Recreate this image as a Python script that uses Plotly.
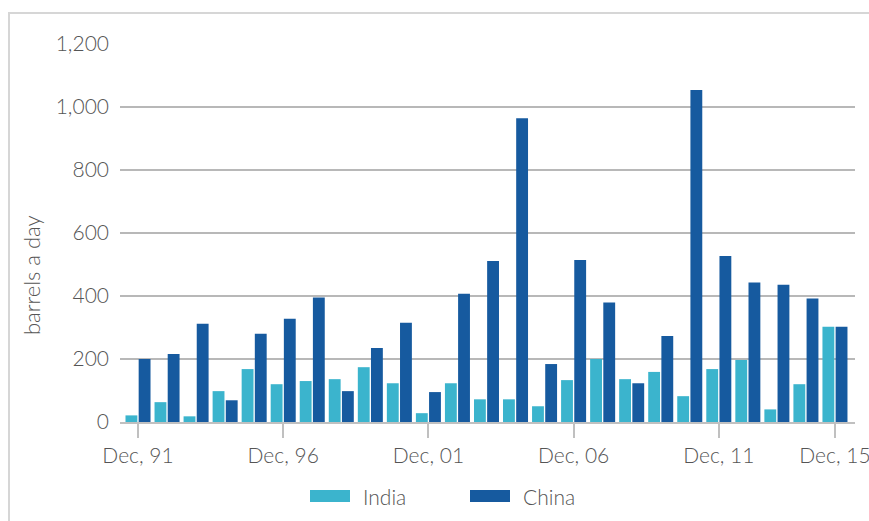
import plotly.graph_objects as go

years = list(range(1991, 2016))
india = [21, 63, 18, 98, 168, 120, 130, 136, 174, 123, 28, 123, 72, 72, 50,
         133, 200, 136, 159, 82, 168, 197, 40, 120, 302]
china = [200, 216, 312, 69, 280, 328, 395, 98, 235, 315, 95, 407, 511, 964, 184,
         514, 379, 123, 273, 1054, 527, 443, 436, 392, 302]
tick_years = [1991, 1996, 2001, 2006, 2011, 2015]
tick_text = ["Dec, 91", "Dec, 96", "Dec, 01", "Dec, 06", "Dec, 11", "Dec, 15"]
y_ticks = [0, 200, 400, 600, 800, 1000, 1200]

C_INDIA = "#3bb4cd"
C_CHINA = "#165a9f"
TXT = "#555555"
FONT = "Lato"
FS = 21

W, H = 869, 521
ML, MR, MT, MB = 120, 14, 44, 99
PW, PH = W - ML - MR, H - MT - MB

fig = go.Figure()
fig.add_trace(go.Bar(x=years, y=india, name="India", marker_color=C_INDIA,
                     marker_line_width=0))
fig.add_trace(go.Bar(x=years, y=china, name="China", marker_color=C_CHINA,
                     marker_line_width=0))

def px_x(p):
    return (p - ML) / PW

def px_y(p):
    return (H - MB - p) / PH

shapes = [
    # outer frame (left and top edges visible)
    dict(type="line", xref="paper", yref="paper", x0=px_x(9), x1=px_x(9),
         y0=px_y(12), y1=px_y(H), line=dict(color="#d6d6d6", width=2)),
    dict(type="line", xref="paper", yref="paper", x0=px_x(8), x1=px_x(W),
         y0=px_y(13), y1=px_y(13), line=dict(color="#d6d6d6", width=2)),
    # legend swatches
    dict(type="rect", xref="paper", yref="paper", x0=px_x(310), x1=px_x(350),
         y0=px_y(502), y1=px_y(490), fillcolor=C_INDIA, line_width=0),
    dict(type="rect", xref="paper", yref="paper", x0=px_x(470), x1=px_x(510),
         y0=px_y(502), y1=px_y(490), fillcolor=C_CHINA, line_width=0),
]

annotations = [
    dict(text="barrels a day", xref="paper", yref="paper", x=px_x(31), y=px_y(275),
         textangle=-90, showarrow=False, xanchor="center", yanchor="middle",
         font=dict(family=FONT, size=22, color=TXT, weight=300)),
    dict(text="India", xref="paper", yref="paper", x=px_x(361), y=px_y(496),
         showarrow=False, xanchor="left", yanchor="middle",
         font=dict(family=FONT, size=FS, color=TXT, weight=300)),
    dict(text="China", xref="paper", yref="paper", x=px_x(521), y=px_y(496),
         showarrow=False, xanchor="left", yanchor="middle",
         font=dict(family=FONT, size=FS, color=TXT, weight=300)),
]

fig.update_layout(
    width=W, height=H,
    margin=dict(l=ML, r=MR, t=MT, b=MB, pad=0, autoexpand=False),
    paper_bgcolor="white", plot_bgcolor="white",
    barmode="group", bargap=0.093, bargroupgap=0.1,
    showlegend=False,
    shapes=shapes, annotations=annotations,
    font=dict(family=FONT, color=TXT, size=FS, weight=300),
)
fig.update_xaxes(
    range=[1991 - 0.62, 2015 + 0.69],
    tickvals=tick_years, ticktext=tick_text,
    ticks="outside", ticklen=14, tickwidth=2, tickcolor="#c0c0c0",
    showline=True, linecolor="#c0c0c0", linewidth=2,
    showgrid=False, zeroline=False, automargin=False,
    ticklabeloverflow="allow",
    tickfont=dict(family=FONT, size=FS, color=TXT, weight=300),
)
fig.update_yaxes(
    range=[0, 1200], tickvals=y_ticks, tickformat=",d",
    showgrid=True, gridcolor="#b8b8b8", gridwidth=1.5,
    zeroline=False, showline=False, ticks="", automargin=False,
    ticklabelstandoff=10,
    tickfont=dict(family=FONT, size=FS, color=TXT, weight=300),
)

fig.write_html(
    "out.html",
    config={"displayModeBar": False},
    post_script=(
        "document.documentElement.style.overflow='hidden';"
        "document.body.style.margin='0';document.body.style.overflow='hidden';"
    ),
)
